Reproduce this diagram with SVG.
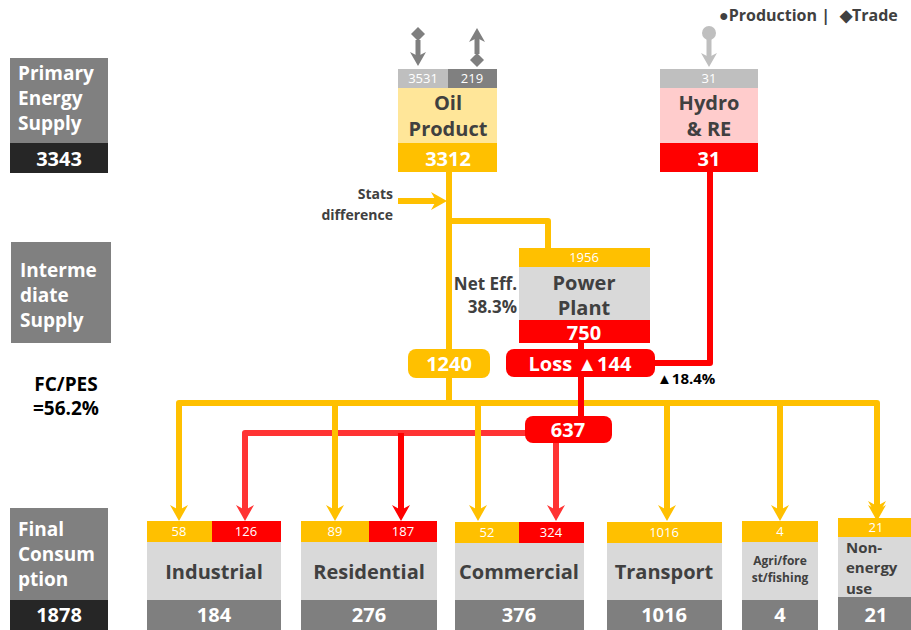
<svg xmlns="http://www.w3.org/2000/svg" width="911" height="630" viewBox="0 0 911 630">
<defs>
<style>
text{font-family:"Open Sans","Noto Sans","Liberation Sans",sans-serif;font-weight:700}
.lbl{fill:#fff;font-size:19px}
.nm{fill:#404040;font-size:20px;text-anchor:middle}
.wn{fill:#fff;font-size:20px;text-anchor:middle}
.sm{fill:#fff;font-size:13px;font-weight:400;text-anchor:middle}
.dk{fill:#404040}
.y{fill:#FFC000}.r{fill:#FF0000}.body{fill:#D9D9D9}.bot{fill:#7F7F7F}
.ly{stroke:#FFC000;stroke-width:6;fill:none;stroke-linejoin:round}
.lr{stroke:#FF3333;stroke-width:6;fill:none;stroke-linejoin:round}
.lr2{stroke:#FF0000;stroke-width:6;fill:none;stroke-linejoin:round}
</style>
<marker id="ay" markerUnits="userSpaceOnUse" markerWidth="18" markerHeight="18" refX="8" refY="9" orient="auto"><path d="M0,0 L16,9 L0,18 L5,9 z" fill="#FFC000"/></marker>
<marker id="ar" markerUnits="userSpaceOnUse" markerWidth="18" markerHeight="18" refX="8" refY="9" orient="auto"><path d="M0,0 L16,9 L0,18 L5,9 z" fill="#FF3333"/></marker>
<marker id="ar2" markerUnits="userSpaceOnUse" markerWidth="18" markerHeight="18" refX="8" refY="9" orient="auto"><path d="M0,0 L16,9 L0,18 L5,9 z" fill="#FF0000"/></marker>
<marker id="ag" markerUnits="userSpaceOnUse" markerWidth="16" markerHeight="16" refX="6" refY="8" orient="auto"><path d="M0,0 L14,8 L0,16 L4,8 z" fill="#7F7F7F"/></marker>
<marker id="alg" markerUnits="userSpaceOnUse" markerWidth="16" markerHeight="16" refX="6" refY="8" orient="auto"><path d="M0,0 L14,8 L0,16 L4,8 z" fill="#BFBFBF"/></marker>
</defs>
<rect width="911" height="630" fill="#fff"/>

<g id="legend">
<text x="719" y="21" style="font-size:16px" class="dk">●Production |</text>
<text x="840" y="21" style="font-size:16px" class="dk">◆Trade</text>
</g>

<g id="pes">
<rect x="10" y="58" width="98" height="85" fill="#808080"/>
<rect x="10" y="143" width="98" height="30" fill="#262626"/>
<text class="lbl" x="18" y="80">Primary</text>
<text class="lbl" x="18" y="105">Energy</text>
<text class="lbl" x="18" y="130">Supply</text>
<text class="wn" x="59" y="166">3343</text>
</g>
<g id="ims">
<rect x="11" y="242" width="100" height="101" fill="#808080"/>
<text class="lbl" x="20" y="277">Interme</text>
<text class="lbl" x="20" y="302">diate</text>
<text class="lbl" x="20" y="327">Supply</text>
</g>
<g id="fcpes">
<text x="66" y="391" style="font-size:19px" text-anchor="middle" fill="#000">FC/PES</text>
<text x="66" y="415" style="font-size:19px" text-anchor="middle" fill="#000">=56.2%</text>
</g>
<g id="fc">
<rect x="10" y="508" width="98" height="92" fill="#808080"/>
<rect x="10" y="600" width="98" height="30" fill="#262626"/>
<text class="lbl" x="18" y="536">Final</text>
<text class="lbl" x="18" y="561">Consum</text>
<text class="lbl" x="18" y="586">ption</text>
<text class="wn" x="59" y="622">1878</text>
</g>

<g id="connectors">
<line x1="418" y1="40" x2="418" y2="58" stroke="#7F7F7F" stroke-width="5" marker-end="url(#ag)"/>
<path d="M418,27 L425,34 L418,41 L411,34 z" fill="#7F7F7F"/>
<line x1="477" y1="54" x2="477" y2="36" stroke="#7F7F7F" stroke-width="5" marker-end="url(#ag)"/>
<path d="M477,53 L484,60 L477,67 L470,60 z" fill="#7F7F7F"/>
<circle cx="709" cy="33" r="7" fill="#BFBFBF"/>
<line x1="709" y1="38" x2="709" y2="59" stroke="#BFBFBF" stroke-width="5" marker-end="url(#alg)"/>
<line class="ly" x1="398" y1="201" x2="439" y2="201" marker-end="url(#ay)"/>
<line class="ly" x1="449" y1="172" x2="449" y2="403"/>
<path class="ly" d="M449,221 H548 V248"/>
<path class="lr2" d="M710,172 V363 H650"/>
<path class="ly" d="M179,513 V403 H877 V513" marker-end="url(#ay)"/>
<line class="ly" x1="179" y1="410" x2="179" y2="513" marker-end="url(#ay)"/>
<path class="lr" d="M245,513 V433 H530"/>
<line class="lr" x1="245" y1="440" x2="245" y2="513" marker-end="url(#ar)"/>
<line class="lr2" x1="401" y1="433" x2="401" y2="513" marker-end="url(#ar2)"/>
<line class="lr" x1="556" y1="440" x2="556" y2="513" marker-end="url(#ar)"/>
<line class="ly" x1="335" y1="403" x2="335" y2="513" marker-end="url(#ay)"/>
<line class="ly" x1="478" y1="403" x2="478" y2="513" marker-end="url(#ay)"/>
<line class="ly" x1="667" y1="403" x2="667" y2="513" marker-end="url(#ay)"/>
<line class="ly" x1="780" y1="403" x2="780" y2="513" marker-end="url(#ay)"/>
<line class="ly" x1="877" y1="403" x2="877" y2="509" marker-end="url(#ay)"/>
<line class="lr2" x1="581" y1="343" x2="581" y2="420"/>
</g>

<g id="oil">
<rect x="398" y="69" width="50" height="19" fill="#BFBFBF"/>
<rect x="448" y="69" width="49" height="19" fill="#808080"/>
<rect x="398" y="88" width="99" height="55" fill="#FFE699"/>
<rect class="y" x="398" y="143" width="99" height="29"/>
<text class="sm" x="423" y="83">3531</text>
<text class="sm" x="472" y="83">219</text>
<text class="nm" x="448" y="110">Oil</text>
<text class="nm" x="448" y="136">Product</text>
<text class="wn" x="448" y="166">3312</text>
</g>

<g id="hydro">
<rect x="660" y="69" width="98" height="19" fill="#BFBFBF"/>
<rect x="660" y="88" width="98" height="55" fill="#FFCCCC"/>
<rect class="r" x="660" y="143" width="98" height="29"/>
<text class="sm" x="709" y="83">31</text>
<text class="nm" x="709" y="110">Hydro</text>
<text class="nm" x="709" y="136">&amp; RE</text>
<text class="wn" x="709" y="166">31</text>
</g>

<g id="stats">
<text x="393" y="199" style="font-size:14px" text-anchor="end" class="dk">Stats</text>
<text x="393" y="220" style="font-size:14px" text-anchor="end" class="dk">difference</text>
</g>

<g id="power">
<rect class="y" x="519" y="248" width="131" height="19"/>
<rect class="body" x="519" y="267" width="131" height="53"/>
<rect class="r" x="519" y="320" width="131" height="23"/>
<text class="sm" x="584" y="262">1956</text>
<text class="nm" x="584" y="290">Power</text>
<text class="nm" x="584" y="315">Plant</text>
<text class="wn" x="584" y="340">750</text>
</g>
<g id="neteff">
<text x="517" y="290" style="font-size:17px" text-anchor="end" class="dk">Net Eff.</text>
<text x="517" y="313" style="font-size:17px" text-anchor="end" class="dk">38.3%</text>
</g>

<g id="p1240">
<rect x="408" y="349" width="82" height="29" rx="8" class="y"/>
<text class="wn" x="449" y="371">1240</text>
</g>
<g id="loss">
<rect x="506" y="349" width="149" height="28" rx="8" class="r"/>
<text class="wn" x="580" y="371">Loss ▲144</text>
</g>
<g id="eff2"><text x="657" y="384" style="font-size:15px" fill="#000">▲18.4%</text></g>
<g id="p637">
<rect x="525" y="416" width="87" height="27" rx="8" class="r"/>
<text class="wn" x="568" y="437">637</text>
</g>

<g id="industrial">
<rect class="y" x="147" y="521" width="65" height="21"/>
<rect class="r" x="212" y="521" width="69" height="21"/>
<rect class="body" x="147" y="542" width="134" height="58"/>
<rect class="bot" x="147" y="600" width="134" height="30"/>
<text class="sm" x="179" y="536">58</text>
<text class="sm" x="246" y="536">126</text>
<text class="nm" x="214" y="579">Industrial</text>
<text class="wn" x="214" y="622">184</text>
</g>
<g id="residential">
<rect class="y" x="301" y="521" width="68" height="21"/>
<rect class="r" x="369" y="521" width="68" height="21"/>
<rect class="body" x="301" y="542" width="136" height="58"/>
<rect class="bot" x="301" y="600" width="136" height="30"/>
<text class="sm" x="335" y="536">89</text>
<text class="sm" x="403" y="536">187</text>
<text class="nm" x="369" y="579">Residential</text>
<text class="wn" x="369" y="622">276</text>
</g>
<g id="commercial">
<rect class="y" x="455" y="522" width="64" height="21"/>
<rect class="r" x="519" y="522" width="65" height="21"/>
<rect class="body" x="455" y="543" width="129" height="57"/>
<rect class="bot" x="455" y="600" width="129" height="30"/>
<text class="sm" x="487" y="537">52</text>
<text class="sm" x="551" y="537">324</text>
<text class="nm" x="519" y="579">Commercial</text>
<text class="wn" x="519" y="622">376</text>
</g>
<g id="transport">
<rect class="y" x="607" y="522" width="115" height="21"/>
<rect class="body" x="607" y="543" width="115" height="57"/>
<rect class="bot" x="607" y="600" width="115" height="30"/>
<text class="sm" x="664" y="537">1016</text>
<text class="nm" x="664" y="579">Transport</text>
<text class="wn" x="664" y="622">1016</text>
</g>
<g id="agri">
<rect class="y" x="742" y="521" width="76" height="21"/>
<rect class="body" x="742" y="542" width="76" height="58"/>
<rect class="bot" x="742" y="600" width="76" height="30"/>
<text class="sm" x="780" y="536">4</text>
<text class="nm" x="780" y="565" style="font-size:12px">Agri/fore</text>
<text class="nm" x="780" y="582" style="font-size:12px">st/fishing</text>
<text class="wn" x="780" y="622">4</text>
</g>
<g id="nonenergy">
<rect class="y" x="838" y="518" width="73" height="19"/>
<rect class="body" x="838" y="537" width="73" height="60"/>
<rect class="bot" x="838" y="597" width="73" height="33"/>
<text class="sm" x="876" y="532">21</text>
<text x="846" y="553" style="font-size:15px" class="dk">Non-</text>
<text x="846" y="573" style="font-size:15px" class="dk">energy</text>
<text x="846" y="594" style="font-size:15px" class="dk">use</text>
<text class="wn" x="876" y="622">21</text>
</g>
</svg>
